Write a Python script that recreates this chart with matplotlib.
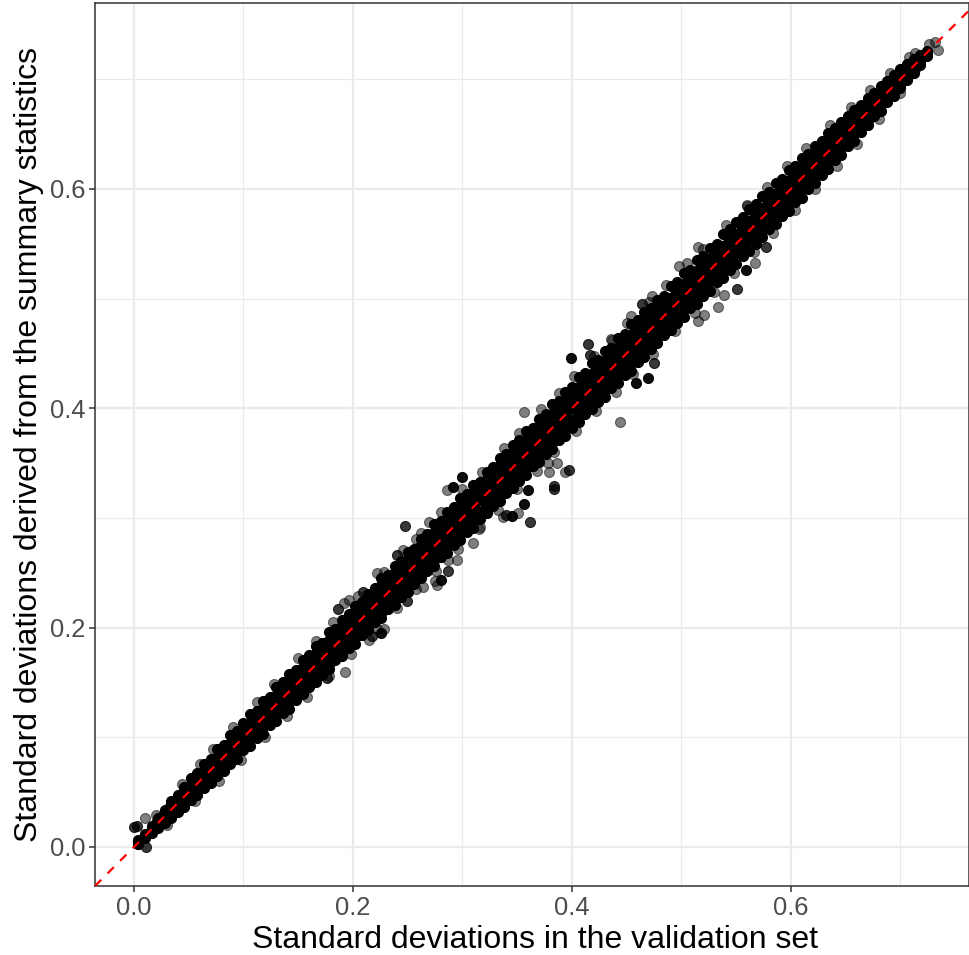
import matplotlib
matplotlib.use("Agg")
import matplotlib.pyplot as plt

plt.rcParams["font.family"] = ["Liberation Sans", "DejaVu Sans"]

# 帯の芯（重なって真っ黒に見える部分）
core_x = [.004, .010, .016, .022, .028, .034, .040, .046, .052, .058,
          .064, .070, .076, .082, .088, .094, .100, .106, .112, .118,
          .124, .130, .136, .142, .148, .154, .160, .166, .172, .178,
          .184, .190, .196, .202, .208, .214, .220, .226, .232, .238,
          .244, .250, .256, .262, .268, .274, .280, .286, .292, .298,
          .304, .310, .316, .322, .328, .334, .340, .346, .352, .358,
          .364, .370, .376, .382, .388, .394, .400, .406, .412, .418,
          .424, .430, .436, .442, .448, .454, .460, .466, .472, .478,
          .484, .490, .496, .502, .508, .514, .520, .526, .532, .538,
          .544, .550, .556, .562, .568, .574, .580, .586, .592, .598,
          .604, .610, .616, .622, .628, .634, .640, .646, .652, .658,
          .664, .670, .676, .682, .688, .694, .700, .706, .712, .718, .724]
core_mid = [.005, .010, .017, .022, .029, .034, .041, .046, .053, .058,
            .065, .070, .077, .082, .089, .094, .101, .106, .113, .118,
            .125, .130, .137, .142, .149, .154, .161, .166, .173, .178,
            .185, .190, .197, .202, .209, .214, .221, .226, .233, .238,
            .245, .250, .257, .262, .269, .274, .281, .286, .293, .298,
            .305, .310, .317, .322, .329, .334, .341, .346, .353, .358,
            .365, .370, .377, .382, .389, .394, .401, .406, .413, .418,
            .425, .430, .437, .442, .449, .454, .461, .466, .473, .478,
            .485, .490, .497, .502, .509, .514, .521, .526, .533, .538,
            .545, .550, .557, .562, .569, .574, .581, .586, .593, .598,
            .605, .610, .617, .622, .629, .634, .641, .646, .653, .658,
            .665, .670, .677, .682, .689, .694, .701, .706, .713, .718, .724]
core_up = [.005, .011, .017, .023, .029, .036, .042, .049, .055, .062,
           .068, .075, .080, .087, .093, .100, .105, .112, .118, .125,
           .130, .137, .143, .150, .155, .162, .168, .175, .180, .187,
           .193, .200, .205, .212, .218, .225, .230, .237, .242, .249,
           .254, .261, .267, .273, .279, .285, .291, .297, .303, .309,
           .316, .322, .328, .334, .340, .346, .352, .358, .364, .370,
           .376, .382, .388, .394, .400, .406, .412, .418, .424, .430,
           .436, .442, .448, .454, .460, .466, .472, .478, .484, .490,
           .494, .500, .506, .512, .518, .524, .529, .535, .541, .547,
           .552, .558, .564, .570, .576, .582, .588, .594, .600, .606,
           .612, .618, .624, .630, .636, .642, .647, .653, .658, .664,
           .669, .675, .680, .686, .691, .697, .703, .708, .714, .719, .725]
core_low = [.003, .009, .015, .021, .027, .032, .038, .043, .049, .054,
            .060, .065, .072, .077, .083, .088, .095, .100, .106, .111,
            .118, .123, .129, .134, .141, .146, .152, .157, .164, .169,
            .175, .180, .187, .192, .198, .203, .210, .215, .222, .227,
            .234, .239, .245, .251, .257, .263, .269, .275, .281, .287,
            .292, .298, .304, .310, .316, .322, .328, .334, .340, .346,
            .352, .358, .364, .370, .376, .382, .388, .394, .400, .406,
            .412, .418, .424, .430, .436, .442, .448, .454, .460, .466,
            .474, .480, .486, .492, .498, .504, .511, .517, .523, .529,
            .536, .542, .548, .554, .560, .566, .572, .578, .584, .590,
            .596, .602, .608, .614, .620, .626, .633, .639, .646, .652,
            .659, .665, .672, .678, .685, .691, .697, .704, .710, .716, .723]

# 帯のふち（core_x と同じ x で、でこぼこした黒い縁）
edge_up = [.006, .012, .019, .026, .034, .042, .047, .055, .063, .067,
           .076, .080, .089, .093, .102, .106, .113, .121, .124, .133,
           .137, .146, .150, .158, .161, .170, .175, .183, .186, .196,
           .199, .207, .212, .220, .223, .231, .236, .245, .248, .256,
           .261, .269, .272, .281, .285, .294, .297, .305, .310, .318,
           .322, .330, .333, .342, .346, .355, .358, .366, .371, .379,
           .382, .390, .395, .404, .407, .415, .419, .428, .432, .441,
           .444, .452, .455, .464, .468, .477, .480, .488, .491, .499,
           .502, .511, .515, .523, .526, .535, .539, .546, .550, .559,
           .563, .570, .574, .582, .586, .593, .597, .605, .609, .617,
           .621, .628, .632, .639, .644, .651, .655, .661, .666, .672,
           .676, .683, .687, .694, .698, .704, .709, .714, .718, .722, .726]
edge_low = [.003, .008, .013, .017, .022, .026, .032, .036, .043, .047,
            .054, .058, .065, .069, .076, .080, .088, .092, .099, .103,
            .111, .115, .122, .126, .134, .139, .146, .150, .157, .162,
            .170, .174, .181, .185, .193, .198, .205, .209, .217, .221,
            .228, .232, .240, .245, .252, .256, .264, .268, .275, .280,
            .287, .291, .299, .304, .311, .315, .323, .327, .334, .339,
            .347, .351, .358, .363, .371, .375, .382, .387, .395, .399,
            .406, .410, .418, .423, .430, .434, .442, .447, .454, .459,
            .467, .471, .478, .483, .491, .495, .502, .507, .515, .519,
            .526, .531, .539, .543, .550, .556, .563, .568, .575, .580,
            .588, .592, .600, .605, .613, .618, .626, .631, .639, .644,
            .652, .658, .666, .671, .679, .685, .692, .699, .706, .713, .721]

# 帯の縁の半透明の点
fringe_x = [.020, .044, .060, .072, .090, .112, .128, .150, .166, .182,
            .205, .228, .246, .262, .280, .300, .318, .338, .352, .372,
            .388, .402, .420, .436, .450, .470, .486, .505, .520, .541,
            .560, .578, .596, .614, .636, .655, .672, .690, .708,
            .030, .056, .078, .098, .120, .140, .158, .178, .198, .222,
            .240, .258, .276, .296, .316, .332, .350, .368, .384, .404,
            .422, .440, .456, .474, .494, .512, .530, .548, .566, .584,
            .604, .622, .642, .660, .680, .700]
fringe_y = [.029, .057, .076, .089, .109, .132, .149, .172, .188, .205,
            .229, .251, .271, .286, .305, .326, .342, .364, .377, .399,
            .414, .429, .448, .463, .478, .497, .512, .532, .545, .567,
            .585, .602, .621, .637, .658, .675, .690, .706, .720,
            .020, .042, .060, .079, .100, .119, .137, .156, .176, .199,
            .218, .235, .252, .272, .292, .307, .326, .343, .360, .379,
            .397, .415, .431, .449, .470, .487, .506, .523, .542, .560,
            .581, .600, .621, .641, .664, .687]

# 外れ値（重なりの濃さごと）
gray_x = [.3565, .2858, .2697, .3790, .3936, .3860, .3784, .3367, .3510, .3148,
          .3093, .1918, .1966, .2283, .2149, .1924, .2642, .2749, .2764, .2947,
          .2870, .2222, .2572, .5330, .5209, .5148, .5668, .5154, .4727, .4536,
          .4362, .4977, .5391, .5595, .4435, .0100, .7315, .7340, .7263, .7132]
gray_y = [.3965, .3250, .2963, .3415, .3415, .3496, .3496, .3005, .3040, .2902,
          .2773, .2220, .2247, .1984, .1891, .1595, .2366, .2427, .2388, .2616,
          .2616, .2493, .2803, .4919, .4850, .4795, .5320, .5472, .5025, .4843,
          .4622, .5296, .5032, .5843, .3871, .0262, .7341, .7265, .7316, .7234]
dark_x = [.4146, .4164, .4746, .2475, .3833, .3836, .3973, .3613, .3397, .1860,
          .2177, .2868, .2490, .2088, .2405, .1760, .5507, .5772, .4636, .0000, .0030, .0107]
dark_y = [.4583, .4485, .4415, .2926, .3290, .3266, .3437, .2967, .3026, .2169,
          .1923, .2516, .2245, .2325, .2662, .1536, .5087, .5469, .4952, .0185, .0190, .0003]
black_x = [.3990, .4697, .4584, .2998, .2916, .3601, .3565, .3449, .2256, .2800, .5592]
black_y = [.4460, .4275, .4227, .3375, .3278, .3257, .3131, .3020, .1951, .2434, .5257]

x_major = [0.0, 0.2, 0.4, 0.6]
x_minor = [0.1, 0.3, 0.5, 0.7]
y_major = [0.0, 0.2, 0.4, 0.6]
y_minor = [0.1, 0.3, 0.5, 0.7]
x_limits = [-0.0356, 0.7626]
y_limits = [-0.0356, 0.7694]


def main():
    fig = plt.figure(figsize=(9.69, 9.55), dpi=100)
    ax = fig.add_axes([95 / 969, 1 - 886 / 955, 874 / 969, 883 / 955])

    # グリッド（theme_bw風）
    ax.set_xticks(x_major)
    ax.set_yticks(y_major)
    ax.set_xticks(x_minor, minor=True)
    ax.set_yticks(y_minor, minor=True)
    ax.grid(True, which="major", color="#EBEBEB", linewidth=1.6, zorder=0)
    ax.grid(True, which="minor", color="#EBEBEB", linewidth=0.8, zorder=0)
    ax.set_axisbelow(True)

    style = dict(s=52, c="black", edgecolors="black", linewidths=0.8)
    ax.scatter(fringe_x, fringe_y, alpha=0.5, zorder=2, **style)
    ax.scatter(gray_x, gray_y, alpha=0.5, zorder=2, **style)
    ax.scatter(dark_x, dark_y, alpha=0.78, zorder=2, **style)
    ax.scatter(black_x, black_y, alpha=0.95, zorder=2, **style)

    # 両端は細いので小さい点、中央は大きい点で塗りつぶす
    for ys in (core_up, core_low, core_mid):
        ax.scatter(core_x[:3], ys[:3], alpha=1.0, zorder=3, **style)
        ax.scatter(core_x[-2:], ys[-2:], alpha=1.0, zorder=3, **style)
        ax.scatter(core_x[3:-2], ys[3:-2], s=95, c="black", linewidths=0, zorder=3)
    for ys in (edge_up, edge_low):
        ax.scatter(core_x, ys, alpha=1.0, zorder=3, **style)

    # y=x の参照線
    ax.plot(x_limits, x_limits, color="red", linewidth=1.6, linestyle=(0, (4, 4)), zorder=4)

    ax.set_xlim(x_limits)
    ax.set_ylim(y_limits)
    ax.set_xticklabels(["0.0", "0.2", "0.4", "0.6"])
    ax.set_yticklabels(["0.0", "0.2", "0.4", "0.6"])
    ax.tick_params(which="major", length=4, width=1.1, color="#333333",
                   labelcolor="#4D4D4D", labelsize=18.4, pad=3)
    ax.tick_params(which="minor", length=0)
    for spine in ax.spines.values():
        spine.set_color("#333333")
        spine.set_linewidth(1.1)

    ax.set_xlabel("Standard deviations in the validation set", fontsize=23, labelpad=4, x=0.503)
    ax.set_ylabel("Standard deviations derived from the summary statistics", fontsize=23, labelpad=4)

    fig.savefig("out.png", dpi=100)
    plt.close(fig)


if __name__ == "__main__":
    main()
